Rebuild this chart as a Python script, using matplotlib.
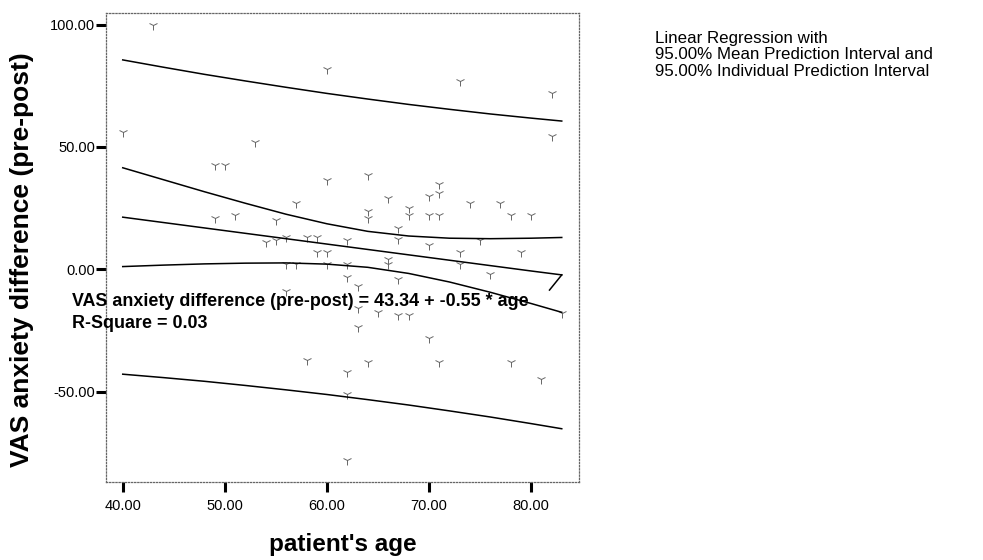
import matplotlib
matplotlib.use("Agg")
import matplotlib.pyplot as plt

plt.rcParams['font.family'] = ['Liberation Sans', 'DejaVu Sans']

# ---- data ----
age = [43, 60, 73, 82, 40, 82, 53, 49, 50, 64, 60, 71, 71, 70, 66, 57, 74, 77,
       64, 64, 68, 68, 49, 51, 55, 70, 71, 78, 80, 67, 54, 55, 56, 58, 59, 62,
       67, 75, 70, 59, 60, 73, 79, 56, 57, 60, 62, 66, 66, 73, 62, 67, 76, 63,
       56, 63, 65, 67, 68, 83, 63, 70, 58, 64, 71, 78, 62, 81, 62, 62]
vas_diff = [100, 82, 77, 72, 56, 54.5, 52, 42.5, 42.5, 38.5, 36.5, 35, 31, 30,
            29, 27, 27, 27, 24, 21, 25, 22, 21, 22, 20, 22, 22, 22, 22, 17, 11,
            12, 13, 13, 13, 12, 12.5, 12, 10, 7, 7, 7, 7, 2, 2, 2, 2, 4, 2, 2,
            -3, -4, -2, -7, -9, -16, -17.5, -18.5, -18.5, -18, -23.5, -28, -37,
            -38, -38, -38, -42, -45, -51, -78]

# regression lines
band_age = [40, 44, 48, 52, 56, 60, 64, 68, 72, 76, 80, 83]
fit = [21.3, 19.1, 16.9, 14.7, 12.5, 10.3, 8.1, 5.9, 3.7, 1.5, -0.7, -2.3]
mean_upper = [41.5, 36.6, 31.7, 27.0, 22.5, 18.6, 15.5, 13.6, 12.7, 12.5, 12.7, 13.0]
mean_lower = [1.1, 1.7, 2.2, 2.5, 2.6, 2.1, 0.8, -1.7, -5.2, -9.4, -14.0, -17.6]
indiv_upper = [85.6, 82.6, 79.7, 77.0, 74.4, 71.9, 69.6, 67.4, 65.4, 63.5, 61.8, 60.6]
indiv_lower = [-42.9, -44.3, -45.8, -47.5, -49.3, -51.2, -53.3, -55.5, -57.9, -60.4, -63.1, -65.2]
tail_age = [83, 81.8]
tail_val = [-2.3, -8.5]

x_ticks = [40, 50, 60, 70, 80]
y_ticks = [-50, 0, 50, 100]

W, H = 983, 560
fig = plt.figure(figsize=(W / 100, H / 100), dpi=100)
L, R, T, B = 106, 579, 12.7, 482.3
ax = fig.add_axes([L / W, 1 - B / H, (R - L) / W, (B - T) / H])

ax.plot(age, vas_diff, linestyle='none', marker='1', markersize=6.5,
        markeredgewidth=0.7, color='#666666', zorder=2)

for series in (fit, mean_upper, mean_lower, indiv_upper, indiv_lower):
    ax.plot(band_age, series, color='black', linewidth=1.1, zorder=3)
ax.plot(tail_age, tail_val, color='black', linewidth=1.1, zorder=3)

ax.set_xlim(38.36, 84.69)
ax.set_ylim(-87.1, 104.9)
ax.set_xticks(x_ticks)
ax.set_yticks(y_ticks)
ax.set_xticklabels([f"{v:.2f}" for v in x_ticks])
ax.set_yticklabels([f"{v:.2f}" for v in y_ticks])
ax.tick_params(axis='both', direction='out', length=7, width=2.2,
               color='black', labelsize=10.5)
ax.tick_params(axis='x', pad=5)
ax.tick_params(axis='y', pad=1)

for sp in ax.spines.values():
    sp.set_linestyle((0, (1, 1.5)))
    sp.set_color('#666666')
    sp.set_linewidth(0.9)

# labels
fig.text(22 / W, 1 - 260 / H, "VAS anxiety difference (pre-post)", rotation=90,
         ha='center', va='center', fontsize=19, fontweight='bold')
fig.text(343 / W, 1 - 545 / H, "patient's age", ha='center', va='center',
         fontsize=17.5, fontweight='bold')

# regression equation
fig.text(72 / W, 1 - 301.7 / H,
         "VAS anxiety difference (pre-post) = 43.34 + -0.55 * age",
         ha='left', va='center', fontsize=12.9, fontweight='bold', zorder=10)
fig.text(72 / W, 1 - 323 / H, "R-Square = 0.03", ha='left', va='center',
         fontsize=12.9, fontweight='bold', zorder=10)

# legend text
legend_lines = ["Linear Regression with",
                "95.00% Mean Prediction Interval and",
                "95.00% Individual Prediction Interval"]
for i, line in enumerate(legend_lines):
    fig.text(655 / W, 1 - (38 + 16.5 * i) / H, line, ha='left', va='center',
             fontsize=12.2)

fig.savefig("out.png", dpi=100)
